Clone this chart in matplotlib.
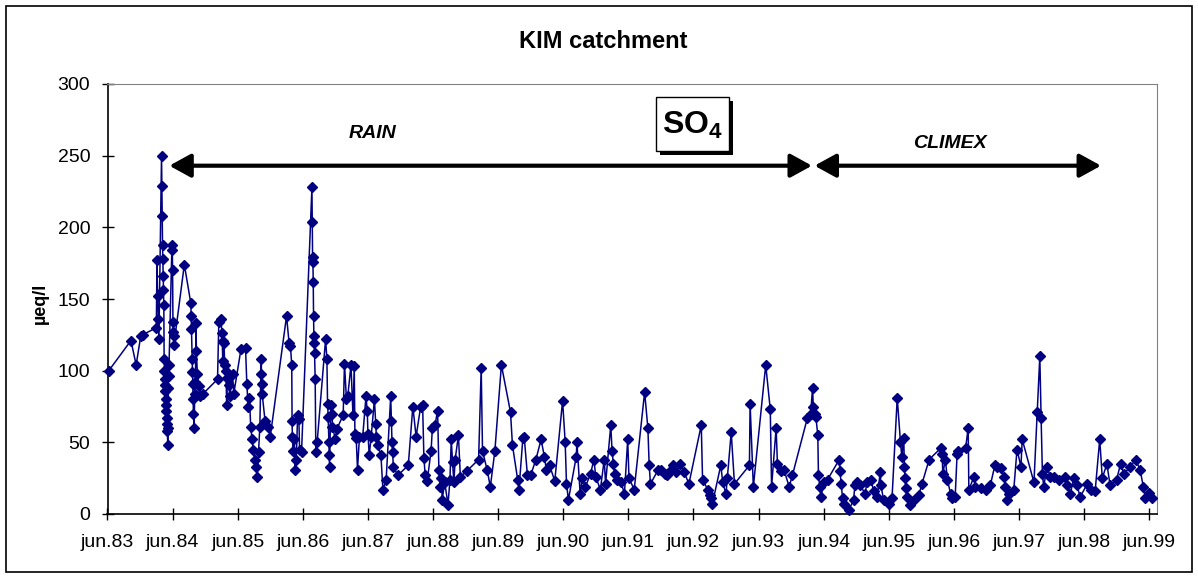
import matplotlib
matplotlib.use("Agg")
import matplotlib.pyplot as plt
from matplotlib.patches import Rectangle

plt.rcParams["font.family"] = ["Liberation Sans", "DejaVu Sans"]
plt.rcParams["mathtext.fontset"] = "custom"
plt.rcParams["mathtext.bf"] = "Liberation Sans:bold"
plt.rcParams["mathtext.rm"] = "Liberation Sans"

# sampling time (years since 1900) and SO4 concentration (µeq/l)
t_year = [
    83.52, 83.86, 83.94, 84.01, 84.04, 84.25, 84.26, 84.27, 84.28, 84.29,
    84.33, 84.335, 84.34, 84.345, 84.35, 84.355, 84.36, 84.365, 84.37, 84.375,
    84.38, 84.385, 84.39, 84.395, 84.40, 84.405, 84.41, 84.415, 84.42, 84.425,
    84.43, 84.435, 84.44, 84.445, 84.49, 84.495, 84.50, 84.505, 84.51, 84.515,
    84.52, 84.68,
    84.78, 84.785, 84.79, 84.80, 84.805, 84.81, 84.815, 84.82, 84.83, 84.84,
    84.85, 84.86, 84.865, 84.88, 84.90, 84.92, 84.97, 85.19, 85.21, 85.24,
    85.26, 85.27, 85.28, 85.29, 85.30, 85.32, 85.33, 85.34, 85.36, 85.38,
    85.42, 85.44, 85.55, 85.62, 85.64, 85.66, 85.68, 85.70, 85.72, 85.74,
    85.76, 85.78, 85.80, 85.82, 85.84, 85.86, 85.865, 85.87, 85.875, 85.92,
    85.97, 86.00,
    86.25, 86.29, 86.31, 86.33, 86.335, 86.34, 86.35, 86.37, 86.38, 86.40,
    86.42, 86.44, 86.45, 86.48, 86.64, 86.645, 86.65, 86.655, 86.66, 86.665,
    86.67, 86.675, 86.68, 86.69, 86.70, 86.72, 86.85, 86.87, 86.88, 86.89,
    86.90, 86.905, 86.91, 86.93, 86.95, 86.955, 87.00, 87.02, 87.12, 87.14,
    87.17, 87.19, 87.24, 87.27, 87.29, 87.30, 87.32, 87.34, 87.37, 87.42,
    87.47, 87.49, 87.50, 87.52, 87.55, 87.60, 87.62, 87.63, 87.65, 87.70,
    87.73, 87.78, 87.85, 87.86, 87.87, 87.88, 87.89, 87.96, 88.12, 88.19,
    88.24, 88.31, 88.34, 88.36, 88.38, 88.41, 88.47, 88.49, 88.53, 88.57,
    88.59, 88.61, 88.63, 88.64, 88.68, 88.73, 88.76, 88.78, 88.80, 88.82,
    88.84, 88.89, 88.92, 89.02,
    89.20, 89.24, 89.26, 89.33, 89.38, 89.45, 89.55, 89.69, 89.72, 89.80,
    89.82, 89.88, 89.90, 89.95, 90.00, 90.08, 90.16, 90.21, 90.24, 90.29,
    90.37, 90.49, 90.53, 90.55, 90.58, 90.70, 90.71, 90.76, 90.79, 90.84,
    90.92, 90.97, 91.00, 91.07, 91.13, 91.15, 91.23, 91.25, 91.27, 91.29,
    91.32, 91.39, 91.44, 91.49, 91.51, 91.59, 91.75, 91.80, 91.82, 91.84,
    91.96,
    92.00, 92.06, 92.10, 92.14, 92.18, 92.23, 92.30, 92.36, 92.43, 92.62,
    92.64, 92.72, 92.75, 92.77, 92.79, 92.92, 92.95, 93.00, 93.02, 93.08,
    93.13, 93.36, 93.37, 93.42, 93.61, 93.68, 93.70, 93.77, 93.79, 93.84,
    93.89, 93.97, 94.02, 94.25, 94.30, 94.33, 94.34, 94.36, 94.38, 94.41,
    94.42, 94.44, 94.46, 94.50, 94.56, 94.74, 94.75, 94.77, 94.79, 94.81,
    94.89, 94.96, 94.98, 95.01, 95.06, 95.14, 95.16, 95.22, 95.27, 95.32,
    95.37, 95.38, 95.42, 95.50, 95.55, 95.63, 95.68, 95.70, 95.73, 95.74,
    95.75, 95.76, 95.78, 95.83, 95.88, 95.96, 96.01, 96.12, 96.30, 96.32,
    96.33, 96.37, 96.40, 96.45, 96.47, 96.52, 96.55, 96.57, 96.68, 96.72,
    96.73, 96.81, 96.83, 96.91, 96.99, 97.06, 97.13, 97.17, 97.22, 97.27,
    97.29, 97.32, 97.34, 97.42, 97.47, 97.53, 97.55, 97.73, 97.78, 97.82,
    97.84, 97.86, 97.88, 97.93, 97.98, 98.04, 98.11, 98.21, 98.24, 98.29,
    98.34, 98.39, 98.44, 98.55, 98.60, 98.67, 98.74, 98.78, 98.85, 98.90,
    99.00, 99.06, 99.11, 99.21, 99.29, 99.36, 99.41, 99.44, 99.49, 99.54,
]

so4 = [
    100, 121, 104, 124, 125, 130, 177, 152, 136, 122,
    250, 229, 208, 188, 178, 166, 156, 146, 108, 100,
    94, 90, 86, 80, 76, 72, 67, 63, 58, 48,
    60, 88, 96, 104, 188, 184, 170, 134, 127, 124,
    118, 174,
    147, 138, 129, 108, 99, 91, 80, 70, 60, 84,
    92, 133, 114, 98, 89, 82, 84, 94, 134, 136,
    126, 107, 121, 119, 104, 100, 76, 95, 90, 82,
    98, 84, 115, 116, 91, 75, 81, 61, 52, 45,
    38, 33, 26, 43, 61, 108, 98, 91, 84, 65,
    61, 54,
    138, 119, 117, 104, 65, 54, 44, 52, 31, 38,
    69, 66, 45, 43, 228, 204, 179, 176, 162, 138,
    124, 119, 112, 94, 43, 50, 122, 108, 77, 68,
    50, 41, 33, 76, 70, 61, 52, 59, 69, 105,
    80, 82, 104, 69, 103, 56, 53, 31, 54, 54,
    82, 72, 56, 41, 54, 80, 63, 54, 48, 41,
    17, 24, 82, 65, 50, 43, 33, 27, 34, 75,
    54, 75, 76, 39, 27, 23, 44, 60, 62, 72,
    31, 19, 25, 10, 22, 6.5, 24, 52, 36, 22,
    38, 55, 26, 30,
    38, 102, 44, 31, 19, 44, 104, 71, 48, 24,
    17, 53, 54, 27, 27, 38, 52, 40, 31, 34,
    23, 79, 50, 21, 10, 40, 50, 14, 25, 19,
    28, 38, 26, 17, 38, 21, 62, 44, 35, 28,
    24, 22, 14, 52, 25, 17, 85, 60, 34, 21,
    31,
    31, 28, 27, 30, 34, 29, 35, 29, 21, 62,
    24, 17, 13, 11, 7, 34, 22, 14, 25, 57,
    21, 34, 77, 19, 104, 73, 19, 60, 35, 30,
    31, 19, 27, 67, 70, 88, 75, 70, 68, 55,
    27, 19, 12, 22, 24, 38, 30, 21, 11, 7,
    3, 10, 20, 22, 20, 14, 22, 24, 16, 12,
    29, 20, 10, 7, 11, 81, 50, 40, 53, 33,
    25, 18, 12, 6, 10, 13, 21, 38, 46, 42,
    28, 38, 24, 14, 11, 12, 42, 44, 46, 60,
    17, 26, 19, 18, 17, 20, 34, 33, 32, 26,
    19, 10, 14, 17, 45, 33, 52, 22, 71, 110,
    67, 28, 19, 33, 26, 26, 24, 26, 20, 14,
    25, 20, 12, 21, 17, 16, 52, 25, 35, 20,
    24, 35, 28, 33, 38, 31, 19, 11, 15, 11,
]

tick_years = list(range(83, 100))
tick_labels = [f"jun.{y:02d}" for y in tick_years]
y_ticks = [0, 50, 100, 150, 200, 250, 300]

W, H = 1198, 578
fig = plt.figure(figsize=(W / 100, H / 100), dpi=100)
ax = fig.add_axes([107.5 / W, 1 - 514 / H, (1157 - 107.5) / W, (514 - 84) / H])

ax.plot(t_year, so4, color="#000080", lw=1.1, marker="D", ms=5.6,
        mfc="#000080", mec="#000080", clip_on=False, zorder=3)

ax.set_xlim(83.5, 99.62)
ax.set_ylim(0, 300)
ax.set_xticks([y + 0.5 for y in tick_years])
ax.set_xticklabels(tick_labels)
ax.set_yticks(y_ticks)
ax.tick_params(axis="both", direction="inout", length=9, width=1, labelsize=14)
ax.tick_params(axis="x", pad=10)
ax.tick_params(axis="y", pad=8)
for side in ["top", "right"]:
    ax.spines[side].set_color("#808080")
for side in ["left", "bottom"]:
    ax.spines[side].set_linewidth(1.2)

# period arrows
arrow = dict(arrowstyle="<|-|>,head_length=1.0,head_width=0.55", color="black",
             lw=3, shrinkA=0, shrinkB=0, mutation_scale=13)
ax.annotate("", xy=(84.45, 243), xytext=(94.32, 243), arrowprops=arrow)
ax.annotate("", xy=(94.36, 243), xytext=(98.76, 243), arrowprops=arrow)
ax.text(87.57, 265.8, "RAIN", fontsize=14, fontweight="bold", fontstyle="italic",
        ha="center", va="center")
ax.text(96.44, 258.8, "CLIMEX", fontsize=14, fontweight="bold", fontstyle="italic",
        ha="center", va="center")

# SO4 label box with shadow
fig.add_artist(Rectangle((660 / W, 1 - 155 / H), 73 / W, 54 / H,
                         transform=fig.transFigure, color="black", lw=0))
fig.add_artist(Rectangle((656 / W, 1 - 151 / H), 73 / W, 54 / H,
                         transform=fig.transFigure, facecolor="white",
                         edgecolor="black", lw=1))
fig.text(692.5 / W, 1 - 125 / H, r"$\mathbf{SO_4}$", fontsize=23,
         ha="center", va="center")

fig.text(603 / W, 1 - 42 / H, "KIM catchment", fontsize=17, fontweight="bold",
         ha="center", va="center")
fig.text(40 / W, 1 - 303 / H, "µeq/l", fontsize=13, fontweight="bold",
         rotation=90, ha="center", va="center")

# outer chart border
fig.add_artist(Rectangle((6 / W, 1 - 572 / H), 1186 / W, 566 / H,
                         transform=fig.transFigure, fill=False,
                         edgecolor="black", lw=1.2))

fig.savefig("out.png", dpi=100)
